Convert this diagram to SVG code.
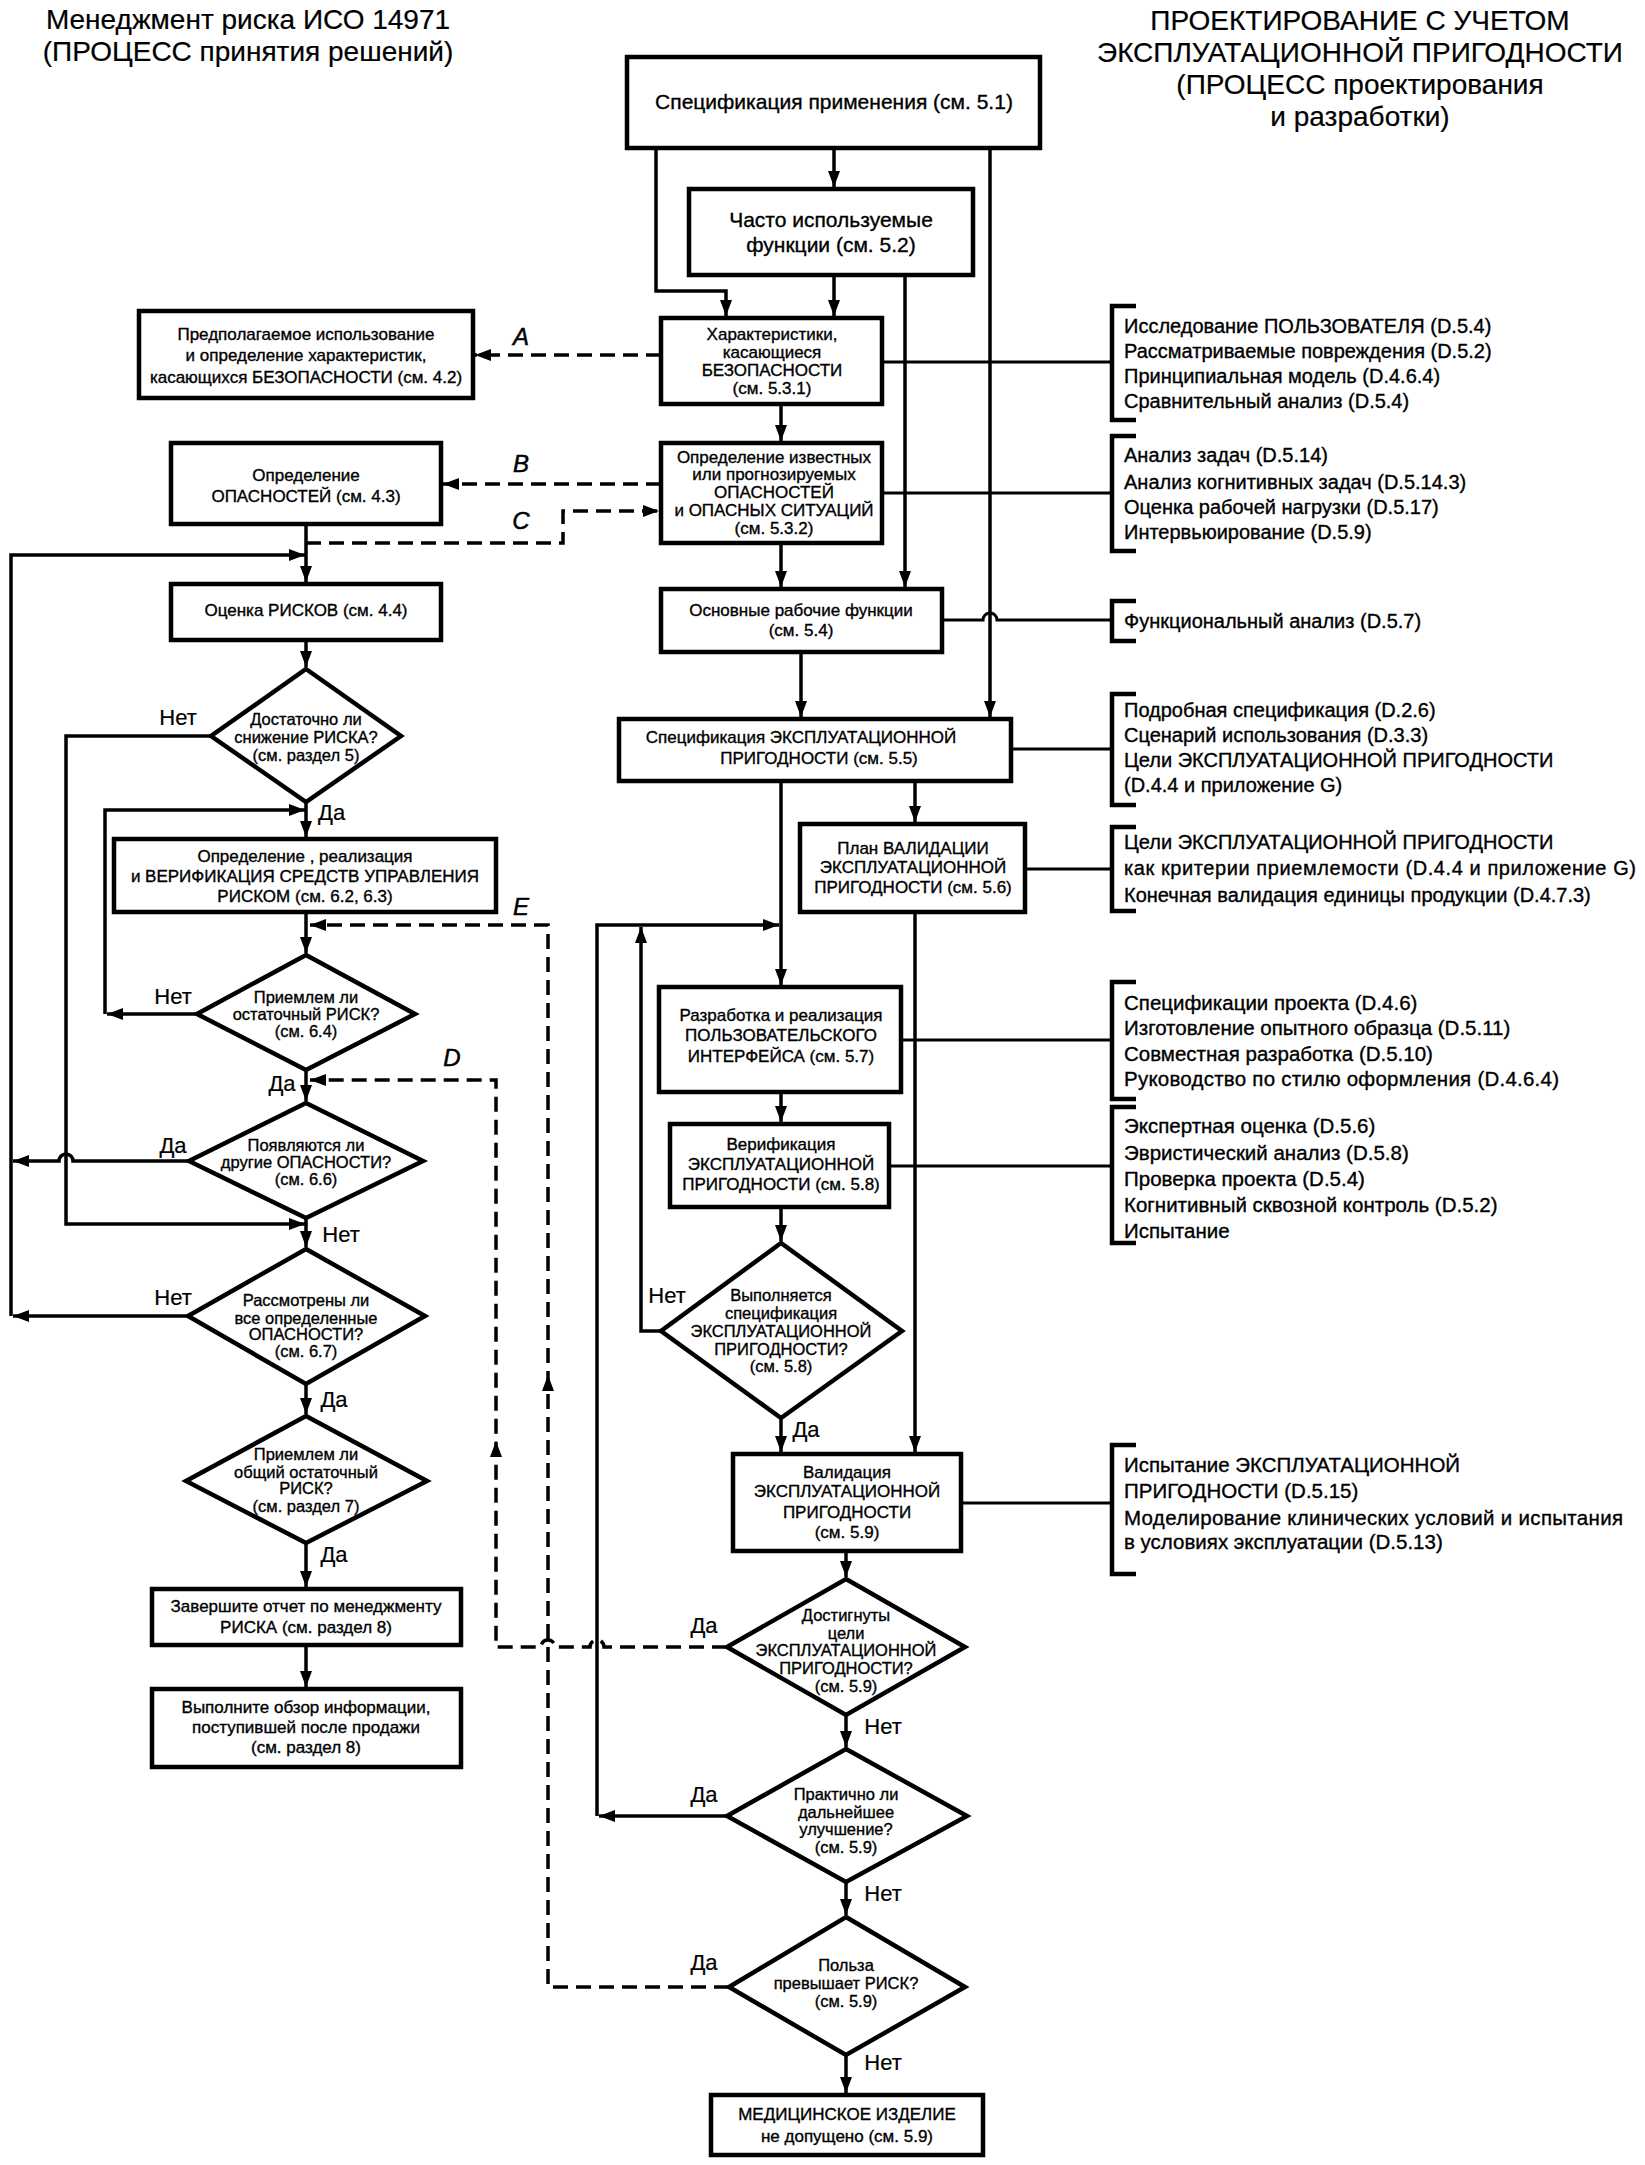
<svg xmlns="http://www.w3.org/2000/svg" xmlns:xlink="http://www.w3.org/1999/xlink" width="1645" height="2165" viewBox="0 0 1645 2165">
<style>
.box{fill:#fff;stroke:#000;stroke-width:4.5}
.ln{fill:none;stroke:#000;stroke-width:3.5}
.sl{fill:none;stroke:#000;stroke-width:3}
.br{fill:none;stroke:#000;stroke-width:4.5}
.ds{fill:none;stroke:#000;stroke-width:3.5;stroke-dasharray:15 8}
text{font-family:"Liberation Sans",Arial,sans-serif;fill:#000;stroke:#000;stroke-width:0.35}
.tt{font-size:28px;text-anchor:middle;stroke-width:0.2}
.b21{font-size:21px;text-anchor:middle}
.b17{font-size:17px;text-anchor:middle}
.d{font-size:16.5px;text-anchor:middle}
.yn{font-size:22px;text-anchor:middle;stroke-width:0.2}
.r{font-size:20px}
.r2{font-size:20.5px}
.let{font-size:24px;font-style:italic;text-anchor:middle;stroke-width:0.5}
</style>
<defs>
<marker id="ah" viewBox="0 0 16 12" refX="16" refY="6" markerWidth="16" markerHeight="12" markerUnits="userSpaceOnUse" orient="auto"><path d="M0,0 L16,6 L0,12 Z" fill="#000"/></marker>
<path id="tri" d="M0,0 L-16,-6 L-16,6 Z" fill="#000"/>
</defs>

<g id="titles">
<text class="tt" x="248" y="29">Менеджмент риска ИСО 14971</text>
<text class="tt" x="248" y="61">(ПРОЦЕСС принятия решений)</text>
<text class="tt" x="1360" y="30">ПРОЕКТИРОВАНИЕ С УЧЕТОМ</text>
<text class="tt" x="1360" y="62">ЭКСПЛУАТАЦИОННОЙ ПРИГОДНОСТИ</text>
<text class="tt" x="1360" y="94">(ПРОЦЕСС проектирования</text>
<text class="tt" x="1360" y="126">и разработки)</text>
</g>

<g id="connectors">
<!-- left column solid -->
<path class="ln" d="M306,524 V582" marker-end="url(#ah)"/>
<path class="ln" d="M11,1316 V555 H305" marker-end="url(#ah)"/>
<path class="ln" d="M189,1161 H73 A7,7 0 0 0 59,1161 H13" marker-end="url(#ah)"/>
<path class="ln" d="M188,1316 H13" marker-end="url(#ah)"/>
<path class="ln" d="M306,640 V667" marker-end="url(#ah)"/>
<path class="ln" d="M211,736 H66 V1224 H305" marker-end="url(#ah)"/>
<path class="ln" d="M306,802 V837" marker-end="url(#ah)"/>
<path class="ln" d="M197,1014 H107" marker-end="url(#ah)"/>
<path class="ln" d="M105,1014 V810 H305" marker-end="url(#ah)"/>
<path class="ln" d="M306,912 V953" marker-end="url(#ah)"/>
<path class="ln" d="M306,1070 V1101" marker-end="url(#ah)"/>
<path class="ln" d="M306,1218 V1247" marker-end="url(#ah)"/>
<path class="ln" d="M306,1384 V1414" marker-end="url(#ah)"/>
<path class="ln" d="M306,1543 V1587" marker-end="url(#ah)"/>
<path class="ln" d="M306,1645 V1687" marker-end="url(#ah)"/>
<!-- dashed -->
<path class="ds" d="M661,355 H475" marker-end="url(#ah)"/>
<path class="ds" d="M661,484 H443" marker-end="url(#ah)"/>
<path class="ds" d="M306,543 H563 V511 H659" marker-end="url(#ah)"/>
<path class="ds" d="M729,1987 H548 V925 H310" marker-end="url(#ah)"/>
<use xlink:href="#tri" transform="translate(548,1375) rotate(-90)"/>
<path class="ds" d="M727,1647 H604 A7,7 0 0 0 590,1647 H555 A7,7 0 0 0 541,1647 H496 V1080 H310" marker-end="url(#ah)"/>
<use xlink:href="#tri" transform="translate(496,1441) rotate(-90)"/>
<!-- middle column -->
<path class="ln" d="M656,148 V291 H726 V316" marker-end="url(#ah)"/>
<path class="ln" d="M834,148 V187" marker-end="url(#ah)"/>
<path class="ln" d="M990,148 V717" marker-end="url(#ah)"/>
<path class="ln" d="M834,275 V316" marker-end="url(#ah)"/>
<path class="ln" d="M905,275 V587" marker-end="url(#ah)"/>
<path class="ln" d="M781,404 V441" marker-end="url(#ah)"/>
<path class="ln" d="M781,543 V587" marker-end="url(#ah)"/>
<path class="ln" d="M801,652 V717" marker-end="url(#ah)"/>
<path class="ln" d="M781,781 V985" marker-end="url(#ah)"/>
<path class="ln" d="M915,781 V822" marker-end="url(#ah)"/>
<path class="ln" d="M915,912 V1452" marker-end="url(#ah)"/>
<path class="ln" d="M597,1816 V925 H779" marker-end="url(#ah)"/>
<path class="ln" d="M727,1816 H599" marker-end="url(#ah)"/>
<path class="ln" d="M661,1331 H641 V927" marker-end="url(#ah)"/>
<path class="ln" d="M781,1092 V1122" marker-end="url(#ah)"/>
<path class="ln" d="M781,1207 V1241" marker-end="url(#ah)"/>
<path class="ln" d="M781,1418 V1452" marker-end="url(#ah)"/>
<path class="ln" d="M846,1551 V1577" marker-end="url(#ah)"/>
<path class="ln" d="M846,1715 V1747" marker-end="url(#ah)"/>
<path class="ln" d="M846,1882 V1915" marker-end="url(#ah)"/>
<path class="ln" d="M846,2055 V2093" marker-end="url(#ah)"/>
<!-- side lines -->
<path class="sl" d="M882,362 H1112"/>
<path class="sl" d="M882,493 H1112"/>
<path class="sl" d="M942,620 H983 A7,7 0 0 1 997,620 H1112"/>
<path class="sl" d="M1011,749 H1112"/>
<path class="sl" d="M1025,869 H1112"/>
<path class="sl" d="M901,1040 H1112"/>
<path class="sl" d="M889,1166 H1112"/>
<path class="sl" d="M961,1503 H1112"/>
<!-- letters -->
<text class="let" x="521" y="345">A</text>
<text class="let" x="521" y="472">B</text>
<text class="let" x="521" y="529">C</text>
<text class="let" x="521" y="915">E</text>
<text class="let" x="452" y="1066">D</text>
<!-- yes/no -->
<text class="yn" x="178" y="725">Нет</text>
<text class="yn" x="318" y="820" style="text-anchor:start">Да</text>
<text class="yn" x="173" y="1004">Нет</text>
<text class="yn" x="282" y="1091">Да</text>
<text class="yn" x="173" y="1153">Да</text>
<text class="yn" x="341" y="1242">Нет</text>
<text class="yn" x="173" y="1305">Нет</text>
<text class="yn" x="334" y="1407">Да</text>
<text class="yn" x="334" y="1562">Да</text>
<text class="yn" x="667" y="1303">Нет</text>
<text class="yn" x="806" y="1437">Да</text>
<text class="yn" x="704" y="1633">Да</text>
<text class="yn" x="883" y="1734">Нет</text>
<text class="yn" x="704" y="1802">Да</text>
<text class="yn" x="883" y="1901">Нет</text>
<text class="yn" x="704" y="1970">Да</text>
<text class="yn" x="883" y="2070">Нет</text>
</g>

<g id="n-intended-use">
<rect class="box" x="139" y="311" width="334" height="87"/>
<text class="b17" x="306" y="340">Предполагаемое использование</text>
<text class="b17" x="306" y="361">и определение характеристик,</text>
<text class="b17" x="306" y="383">касающихся БЕЗОПАСНОСТИ (см. 4.2)</text>
</g>
<g id="n-hazards">
<rect class="box" x="171" y="443" width="270" height="81"/>
<text class="b17" x="306" y="481">Определение</text>
<text class="b17" x="306" y="502">ОПАСНОСТЕЙ (см. 4.3)</text>
</g>
<g id="n-risk-est">
<rect class="box" x="171" y="584" width="270" height="56"/>
<text class="b17" x="306" y="616">Оценка РИСКОВ (см. 4.4)</text>
</g>
<g id="n-d1">
<polygon class="box" points="306,669 401,736 306,802 211,736"/>
<text class="d" x="306" y="725">Достаточно ли</text>
<text class="d" x="306" y="743">снижение РИСКА?</text>
<text class="d" x="306" y="761">(см. раздел 5)</text>
</g>
<g id="n-controls">
<rect class="box" x="114" y="839" width="382" height="73"/>
<text class="b17" x="305" y="862">Определение , реализация</text>
<text class="b17" x="305" y="882">и ВЕРИФИКАЦИЯ СРЕДСТВ УПРАВЛЕНИЯ</text>
<text class="b17" x="305" y="902">РИСКОМ (см. 6.2, 6.3)</text>
</g>
<g id="n-d2">
<polygon class="box" points="306,955 415,1014 306,1070 197,1014"/>
<text class="d" x="306" y="1003">Приемлем ли</text>
<text class="d" x="306" y="1020">остаточный РИСК?</text>
<text class="d" x="306" y="1037">(см. 6.4)</text>
</g>
<g id="n-d3">
<polygon class="box" points="306,1103 423,1161 306,1218 189,1161"/>
<text class="d" x="306" y="1151">Появляются ли</text>
<text class="d" x="306" y="1168">другие ОПАСНОСТИ?</text>
<text class="d" x="306" y="1185">(см. 6.6)</text>
</g>
<g id="n-d4">
<polygon class="box" points="306,1249 425,1316 306,1384 188,1316"/>
<text class="d" x="306" y="1306">Рассмотрены ли</text>
<text class="d" x="306" y="1324">все определенные</text>
<text class="d" x="306" y="1340">ОПАСНОСТИ?</text>
<text class="d" x="306" y="1357">(см. 6.7)</text>
</g>
<g id="n-d5">
<polygon class="box" points="306,1416 427,1481 306,1543 186,1481"/>
<text class="d" x="306" y="1460">Приемлем ли</text>
<text class="d" x="306" y="1478">общий остаточный</text>
<text class="d" x="306" y="1494">РИСК?</text>
<text class="d" x="306" y="1512">(см. раздел 7)</text>
</g>
<g id="n-report">
<rect class="box" x="152" y="1589" width="309" height="56"/>
<text class="b17" x="306" y="1612">Завершите отчет по менеджменту</text>
<text class="b17" x="306" y="1633">РИСКА (см. раздел 8)</text>
</g>
<g id="n-postprod">
<rect class="box" x="152" y="1689" width="309" height="78"/>
<text class="b17" x="306" y="1713">Выполните обзор информации,</text>
<text class="b17" x="306" y="1733">поступившей после продажи</text>
<text class="b17" x="306" y="1753">(см. раздел 8)</text>
</g>

<g id="n-appspec">
<rect class="box" x="627" y="57" width="413" height="91"/>
<text class="b21" x="834" y="109">Спецификация применения (см. 5.1)</text>
</g>
<g id="n-freq">
<rect class="box" x="689" y="189" width="284" height="86"/>
<text class="b21" x="831" y="227">Часто используемые</text>
<text class="b21" x="831" y="252">функции (см. 5.2)</text>
</g>
<g id="n-safety">
<rect class="box" x="661" y="318" width="221" height="86"/>
<text class="b17" x="772" y="340">Характеристики,</text>
<text class="b17" x="772" y="358">касающиеся</text>
<text class="b17" x="772" y="376">БЕЗОПАСНОСТИ</text>
<text class="b17" x="772" y="394">(см. 5.3.1)</text>
</g>
<g id="n-known-hazards">
<rect class="box" x="661" y="443" width="221" height="100"/>
<text class="b17" x="774" y="463">Определение известных</text>
<text class="b17" x="774" y="480">или прогнозируемых</text>
<text class="b17" x="774" y="498">ОПАСНОСТЕЙ</text>
<text class="b17" x="774" y="516">и ОПАСНЫХ СИТУАЦИЙ</text>
<text class="b17" x="774" y="534">(см. 5.3.2)</text>
</g>
<g id="n-primary">
<rect class="box" x="661" y="589" width="281" height="63"/>
<text class="b17" x="801" y="616">Основные рабочие функции</text>
<text class="b17" x="801" y="636">(см. 5.4)</text>
</g>
<g id="n-usespec">
<rect class="box" x="619" y="719" width="392" height="62"/>
<text class="b17" x="801" y="743">Спецификация ЭКСПЛУАТАЦИОННОЙ</text>
<text class="b17" x="819" y="764">ПРИГОДНОСТИ (см. 5.5)</text>
</g>
<g id="n-valplan">
<rect class="box" x="800" y="824" width="225" height="88"/>
<text class="b17" x="913" y="854">План ВАЛИДАЦИИ</text>
<text class="b17" x="913" y="873">ЭКСПЛУАТАЦИОННОЙ</text>
<text class="b17" x="913" y="893">ПРИГОДНОСТИ (см. 5.6)</text>
</g>
<g id="n-ui">
<rect class="box" x="659" y="987" width="242" height="105"/>
<text class="b17" x="781" y="1021">Разработка и реализация</text>
<text class="b17" x="781" y="1041">ПОЛЬЗОВАТЕЛЬСКОГО</text>
<text class="b17" x="781" y="1062">ИНТЕРФЕЙСА (см. 5.7)</text>
</g>
<g id="n-verif">
<rect class="box" x="670" y="1124" width="219" height="83"/>
<text class="b17" x="781" y="1150">Верификация</text>
<text class="b17" x="781" y="1170">ЭКСПЛУАТАЦИОННОЙ</text>
<text class="b17" x="781" y="1190">ПРИГОДНОСТИ (см. 5.8)</text>
</g>
<g id="n-d6">
<polygon class="box" points="781,1243 902,1331 781,1418 661,1331"/>
<text class="d" x="781" y="1301">Выполняется</text>
<text class="d" x="781" y="1319">спецификация</text>
<text class="d" x="781" y="1337">ЭКСПЛУАТАЦИОННОЙ</text>
<text class="d" x="781" y="1355">ПРИГОДНОСТИ?</text>
<text class="d" x="781" y="1372">(см. 5.8)</text>
</g>
<g id="n-valid">
<rect class="box" x="733" y="1454" width="228" height="97"/>
<text class="b17" x="847" y="1478">Валидация</text>
<text class="b17" x="847" y="1497">ЭКСПЛУАТАЦИОННОЙ</text>
<text class="b17" x="847" y="1518">ПРИГОДНОСТИ</text>
<text class="b17" x="847" y="1538">(см. 5.9)</text>
</g>
<g id="n-d7">
<polygon class="box" points="846,1579 965,1647 846,1715 727,1647"/>
<text class="d" x="846" y="1621">Достигнуты</text>
<text class="d" x="846" y="1639">цели</text>
<text class="d" x="846" y="1656">ЭКСПЛУАТАЦИОННОЙ</text>
<text class="d" x="846" y="1674">ПРИГОДНОСТИ?</text>
<text class="d" x="846" y="1692">(см. 5.9)</text>
</g>
<g id="n-d8">
<polygon class="box" points="846,1749 967,1816 846,1882 727,1816"/>
<text class="d" x="846" y="1800">Практично ли</text>
<text class="d" x="846" y="1818">дальнейшее</text>
<text class="d" x="846" y="1835">улучшение?</text>
<text class="d" x="846" y="1853">(см. 5.9)</text>
</g>
<g id="n-d9">
<polygon class="box" points="846,1917 965,1987 846,2055 729,1987"/>
<text class="d" x="846" y="1971">Польза</text>
<text class="d" x="846" y="1989">превышает РИСК?</text>
<text class="d" x="846" y="2007">(см. 5.9)</text>
</g>
<g id="n-notapproved">
<rect class="box" x="711" y="2095" width="272" height="60"/>
<text class="b17" x="847" y="2120">МЕДИЦИНСКОЕ ИЗДЕЛИЕ</text>
<text class="b17" x="847" y="2142">не допущено (см. 5.9)</text>
</g>

<g id="n-br1">
<path class="br" d="M1136,306 H1112 V420 H1136"/>
<text class="r" x="1124" y="333">Исследование ПОЛЬЗОВАТЕЛЯ (D.5.4)</text>
<text class="r" x="1124" y="358">Рассматриваемые повреждения (D.5.2)</text>
<text class="r" x="1124" y="383">Принципиальная модель (D.4.6.4)</text>
<text class="r" x="1124" y="408">Сравнительный анализ (D.5.4)</text>
</g>
<g id="n-br2">
<path class="br" d="M1136,436 H1112 V551 H1136"/>
<text class="r" x="1124" y="462">Анализ задач (D.5.14)</text>
<text class="r" x="1124" y="489">Анализ когнитивных задач (D.5.14.3)</text>
<text class="r" x="1124" y="514">Оценка рабочей нагрузки (D.5.17)</text>
<text class="r" x="1124" y="539">Интервьюирование (D.5.9)</text>
</g>
<g id="n-br3">
<path class="br" d="M1136,601 H1112 V641 H1136"/>
<text class="r" x="1124" y="628">Функциональный анализ (D.5.7)</text>
</g>
<g id="n-br4">
<path class="br" d="M1136,694 H1112 V805 H1136"/>
<text class="r" x="1124" y="717">Подробная спецификация (D.2.6)</text>
<text class="r" x="1124" y="742">Сценарий использования (D.3.3)</text>
<text class="r" x="1124" y="767">Цели ЭКСПЛУАТАЦИОННОЙ ПРИГОДНОСТИ</text>
<text class="r" x="1124" y="792">(D.4.4 и приложение G)</text>
</g>
<g id="n-br5">
<path class="br" d="M1136,827 H1112 V911 H1136"/>
<text class="r" x="1124" y="849">Цели ЭКСПЛУАТАЦИОННОЙ ПРИГОДНОСТИ</text>
<text class="r" x="1124" y="875" textLength="512" lengthAdjust="spacing">как критерии приемлемости  (D.4.4 и приложение G)</text>
<text class="r" x="1124" y="902">Конечная валидация единицы продукции (D.4.7.3)</text>
</g>
<g id="n-br6">
<path class="br" d="M1136,982 H1112 V1099 H1136"/>
<text class="r2" x="1124" y="1010">Спецификации проекта (D.4.6)</text>
<text class="r2" x="1124" y="1035">Изготовление опытного образца (D.5.11)</text>
<text class="r2" x="1124" y="1061">Совместная разработка (D.5.10)</text>
<text class="r2" x="1124" y="1086" textLength="435" lengthAdjust="spacing">Руководство по стилю оформления (D.4.6.4)</text>
</g>
<g id="n-br7">
<path class="br" d="M1136,1107 H1112 V1243 H1136"/>
<text class="r2" x="1124" y="1133">Экспертная оценка (D.5.6)</text>
<text class="r2" x="1124" y="1160">Эвристический анализ (D.5.8)</text>
<text class="r2" x="1124" y="1186">Проверка проекта (D.5.4)</text>
<text class="r2" x="1124" y="1212">Когнитивный сквозной контроль (D.5.2)</text>
<text class="r2" x="1124" y="1238">Испытание</text>
</g>
<g id="n-br8">
<path class="br" d="M1136,1445 H1112 V1574 H1136"/>
<text class="r2" x="1124" y="1472">Испытание ЭКСПЛУАТАЦИОННОЙ</text>
<text class="r2" x="1124" y="1498">ПРИГОДНОСТИ  (D.5.15)</text>
<text class="r2" x="1124" y="1525" textLength="499" lengthAdjust="spacing">Моделирование клинических условий и испытания</text>
<text class="r2" x="1124" y="1549">в условиях эксплуатации (D.5.13)</text>
</g>
</svg>
